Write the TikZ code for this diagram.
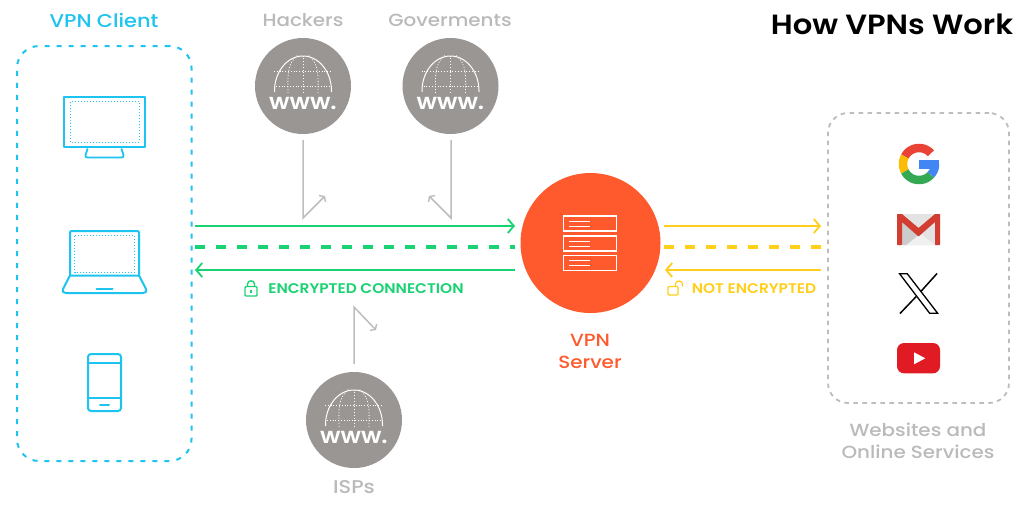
\documentclass[tikz,border=0pt]{standalone}
\usepackage{fontspec}
\setmainfont{Poppins}
\newfontfamily\medfont[FakeStretch=1.13]{Poppins Medium}
\newfontfamily\semifont[FakeStretch=1.1]{Poppins SemiBold}
\newfontfamily\boldfont[FakeStretch=1.1]{Poppins SemiBold}
\usetikzlibrary{arrows.meta}
\definecolor{cyanc}{HTML}{1CC4EF}
\definecolor{greenc}{HTML}{19D373}
\definecolor{orangec}{HTML}{FF5A2D}
\definecolor{yellowc}{HTML}{FFCF1A}
\definecolor{globec}{HTML}{9A9694}
\definecolor{ltext}{HTML}{BABABA}
\definecolor{lline}{HTML}{BDBDBD}
\definecolor{gred}{HTML}{EA4335}
\definecolor{gyel}{HTML}{FBBC05}
\definecolor{ggre}{HTML}{34A853}
\definecolor{gblu}{HTML}{4285F4}
\definecolor{ytred}{HTML}{E01B24}
\tikzset{
  x=1pt,y=-1pt,
  label/.style={inner sep=0pt,align=center,font=\medfont\fontsize{#1}{22}\selectfont},
  smalllabel/.style={inner sep=0pt,font=\semifont\fontsize{#1}{16}\selectfont},
  tip/.style={-{Straight Barb[length=6pt,width=14pt,line width=1.8pt]}},
  flow/.style={line width=1.9pt,tip},
  flowdash/.style={line width=3.6pt,dash pattern=on 10pt off 11pt},
  icon/.style={draw=cyanc,line width=2pt,line join=round,line cap=round},
  icondot/.style={draw=cyanc,line width=1pt,dash pattern=on 1pt off 2pt},
  globenode/.style={circle,fill=globec,minimum size=96pt,inner sep=0pt},
  snoop/.style={draw=lline,line width=1.5pt,line join=miter,-{Straight Barb[length=3pt,width=9pt,line width=1.4pt]}},
  wwwdot/.style={draw=white,line width=0.8pt,dash pattern=on 1pt off 1.8pt},
}
\newcommand{\globeart}[3]{%
  \node[globenode] (#1) at (#2,#3) {};
  \begin{scope}[shift={(#2,#3)}]
    \draw[white,line width=1pt] (-28.5,6) -- (-28.5,5)
      plot[domain=180:360,samples=40] ({28.5*cos(\x)},{5+35*sin(\x)}) -- (28.5,6);
    \draw[wwwdot] (-27,0) -- (27,0);
    \draw[wwwdot] (-29,-15) -- (29,-15);
    \draw[wwwdot] (0,7) -- (0,-31);
    \draw[wwwdot] (-15,7) .. controls (-15,-8) and (-17,-22) .. (-5,-31);
    \draw[wwwdot] (15,7) .. controls (15,-8) and (17,-22) .. (5,-31);
    \node[inner sep=0pt,text=white,font=\boldfont\fontsize{22}{24}\selectfont] (#1www) at (0,17) {www.};
  \end{scope}
}
\newcommand{\rackart}[1]{%
  \draw[white,line width=1.7pt] (563.5,#1) rectangle (616.5,#1+15);
  \draw[white,line width=0.9pt] (569,#1+5) -- (590,#1+5) (569,#1+10) -- (590,#1+10);
}
\begin{document}
\begin{tikzpicture}
\useasboundingbox (0,0) rectangle (1024,504);
\fill[white] (0,0) rectangle (1024,504);

% title and group labels
\node[inner sep=0pt,font=\boldfont\fontsize{27.8}{30}\selectfont,text=black] (title) at (892,24) {How VPNs Work};
\node[label=18.5,text=cyanc] (clientlabel) at (104,20) {VPN Client};
\node[label=17.6,text=ltext] (hackerslabel) at (303,20) {Hackers};
\node[label=17.6,text=ltext] (govlabel) at (450,20) {Goverments};
\node[label=18.5,text=ltext] (ispslabel) at (354,487) {ISPs};
\node[label=17.6,text=orangec] (serverlabel) at (590,351) {VPN\\Server};
\node[label=17.6,text=ltext] (siteslabel) at (918,441) {Websites and\\Online Services};
\node[smalllabel=14,text=greenc] (enclabel) at (366,289) {ENCRYPTED CONNECTION};
\node[smalllabel=14,text=yellowc] (notenclabel) at (754,289) {NOT ENCRYPTED};

% groups
\node[draw=cyanc,line width=2pt,dash pattern=on 5pt off 7pt,rounded corners=22pt,minimum width=174.5pt,minimum height=415pt,inner sep=0pt] (client) at (104.25,253.5) {};
\node[draw=lline,line width=1.8pt,dash pattern=on 4.5pt off 4.5pt,rounded corners=20pt,minimum width=181pt,minimum height=290pt,inner sep=0pt] (sites) at (918.5,258) {};

% monitor
\draw[icon] (64,97) rectangle (145,147);
\draw[icondot] (70.5,101.5) rectangle (139,142);
\draw[icon,line width=1.8pt] (87.5,149) -- (85.5,155) .. controls (85,157) and (86,157.5) .. (88,157.5) -- (121,157.5) .. controls (123,157.5) and (124,157) .. (123.5,155) -- (121.5,149);
% laptop
\draw[icon] (70,275.5) -- (70,233) .. controls (70,231.5) and (70.5,231) .. (72,231) -- (137,231) .. controls (138.5,231) and (139,231.5) .. (139,233) -- (139,275.5) -- cycle;
\draw[icondot] (74.5,235.5) rectangle (134.5,272);
\draw[icon] (70,275.5) -- (63,289) .. controls (62,292) and (64,293) .. (66,293) -- (143,293) .. controls (145,293) and (147,292) .. (146,289) -- (139,275.5);
\draw[icon] (96.5,289) -- (112.5,289);
% phone
\draw[icon,rounded corners=3pt] (88,354) rectangle (121,411);
\draw[icon] (88,363) -- (121,363) (88,398) -- (121,398) (100,404.5) -- (109,404.5);

% globes
\globeart{hackers}{303}{86}
\globeart{gov}{450.5}{86}
\globeart{isps}{354}{420}

% server
\node[circle,fill=orangec,minimum size=140pt,inner sep=0pt] (server) at (590.5,243) {};
\rackart{216}
\rackart{236}
\rackart{255.5}

% connector ends
\coordinate (gl1) at (195,226);
\coordinate (gr1) at (515,226);
\coordinate (gl2) at (195,247);
\coordinate (gr2) at (515,247);
\coordinate (gl3) at (195,270);
\coordinate (gr3) at (515,270);
\coordinate (yl1) at (664,226);
\coordinate (yr1) at (821,226);
\coordinate (yl2) at (664,247);
\coordinate (yr2) at (821,247);
\coordinate (yl3) at (665,270);
\coordinate (yr3) at (821,270);
\coordinate (ha) at (303,140);
\coordinate (hb) at (303,218);
\coordinate (hc) at (325,196);
\coordinate (ga) at (451,140);
\coordinate (gb) at (451,218);
\coordinate (gc) at (429,196);
\coordinate (ia) at (354,364);
\coordinate (ib) at (354,307);
\coordinate (ic) at (376,330);

\draw[flow,draw=greenc] (gl1) -- (gr1);
\draw[flowdash,draw=greenc] (gl2) -- (gr2);
\draw[flow,draw=greenc] (gr3) -- (gl3);
\draw[flow,draw=yellowc] (yl1) -- (yr1);
\draw[flowdash,draw=yellowc] (yl2) -- (yr2);
\draw[flow,draw=yellowc] (yr3) -- (yl3);

\draw[snoop] (ha) -- (hb) -- (hc);
\draw[snoop] (ga) -- (gb) -- (gc);
\draw[snoop] (ia) -- (ib) -- (ic);

% locks
\draw[draw=greenc,line width=1.4pt,rounded corners=1pt] (245,286.5) rectangle (257,296);
\draw[draw=greenc,line width=1.4pt] (247.5,286.5) -- (247.5,284) .. controls (247.5,279.8) and (254.5,279.8) .. (254.5,284) -- (254.5,286.5);
\fill[greenc] (250,290) rectangle (252,293);
\draw[draw=yellowc,line width=1.3pt,rounded corners=1pt] (668,286.5) rectangle (678,295);
\draw[draw=yellowc,line width=1.3pt] (675.5,286.5) -- (675.5,284) .. controls (675.5,280) and (682.5,280) .. (682.5,284) -- (682.5,286.5);

% google
\draw[gred,line width=8.5pt] plot[domain=-42:-152,samples=30] ({919+16*cos(\x)},{164+16*sin(\x)});
\draw[gyel,line width=8.5pt] plot[domain=-152:-208,samples=20] ({919+16*cos(\x)},{164+16*sin(\x)});
\draw[ggre,line width=8.5pt] plot[domain=152:42,samples=30] ({919+16*cos(\x)},{164+16*sin(\x)});
\draw[gblu,line width=8.5pt] plot[domain=42:0,samples=15] ({919+16*cos(\x)},{164+16*sin(\x)});
\fill[gblu] (919,160) rectangle (939.2,168.5);

% gmail
\fill[rounded corners=1pt,fill=black!11] (897,214) rectangle (940,245);
\fill[black!6] (902,245) -- (918.5,232) -- (935,245) -- cycle;
\fill[black!20] (902,221) -- (918.5,235) -- (906,245) -- (902,245) -- cycle;
\fill[rounded corners=0.6pt,fill=gred!90!black] (897,214) -- (902,214) -- (918.5,228) -- (935,214) -- (940,214) -- (940,245) -- (935,245) -- (935,222) -- (918.5,236.5) -- (902,222) -- (902,245) -- (897,245) -- cycle;

% x
\draw[black,line width=1.3pt,line join=miter] (899.6,273.8) -- (907.3,273.8) -- (937.6,313.2) -- (929.6,313.2) -- cycle;
\draw[black,line width=1.5pt] (937,273.5) -- (921,291.3) (916,296.7) -- (900,313.5);

% youtube
\fill[rounded corners=7pt,fill=ytred] (897,343) rectangle (940,373.3);
\fill[white] (914,352.3) -- (925.3,358.3) -- (914,364.3) -- cycle;
\end{tikzpicture}
\end{document}
